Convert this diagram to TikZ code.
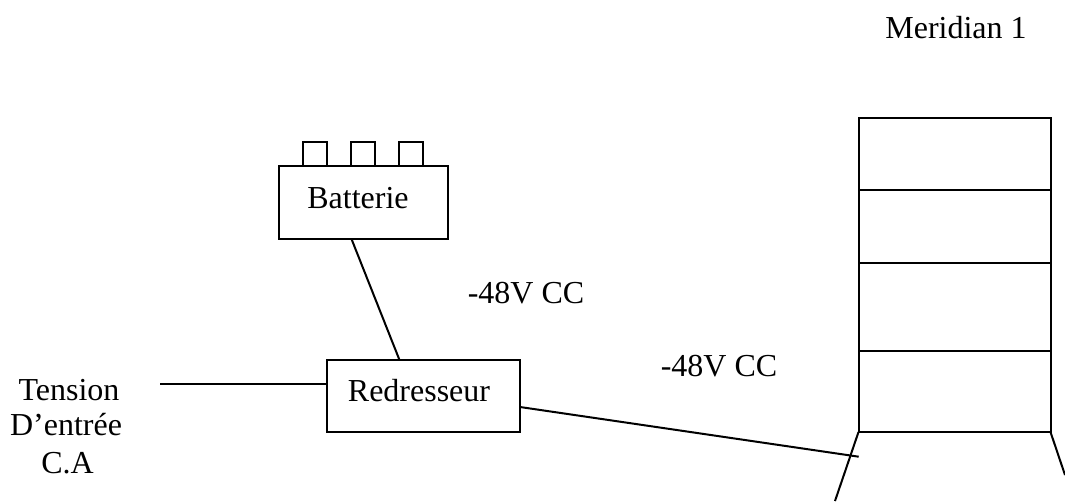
\documentclass[tikz,border=0pt]{standalone}
\usepackage{fontspec}
\setmainfont{Liberation Serif}
\tikzset{
  line/.style={draw=black,line width=1.5pt},
  box/.style={line,rectangle,inner sep=0pt,outer sep=0pt},
  label/.style={inner sep=0pt,font=\fontsize{24}{28}\selectfont,anchor=base},
}
\begin{document}
\begin{tikzpicture}[x=0.75pt,y=-0.75pt]
\useasboundingbox (0,0) rectangle (1065,501);
% Battery
\foreach \n/\x in {t1/315,t2/363,t3/411}
  \node[box,minimum width=18pt,minimum height=18pt] (\n) at (\x,154) {};
\node[box,fill=white,minimum width=126.75pt,minimum height=54.75pt] (bat) at (363.25,202.5) {};
\node[label] (battxt) at (358,208) {Batterie};
% Rectifier
\node[box,minimum width=144.75pt,minimum height=54pt] (red) at (423.5,396) {};
\node[label] (redtxt) at (419,401) {Redresseur};
% Cabinet
\node[box,minimum width=144pt,minimum height=54pt] (c1) at (954.5,154) {};
\node[box,minimum width=144pt,minimum height=54.75pt] (c2) at (954.5,226.5) {};
\node[box,minimum width=144pt,minimum height=66pt] (c3) at (954.5,307) {};
\node[box,minimum width=144pt,minimum height=60.75pt] (c4) at (954.5,391.5) {};
% Free ends
\coordinate (legL) at (835,501);
\coordinate (legR) at (1065,475);
\coordinate (feedEnd) at (858.7,456.7);
\coordinate (acIn) at (160,384);
\coordinate (batOut) at (351.5,239);
\coordinate (redTop) at (399.5,360);
\coordinate (redOut) at (520,407);
\coordinate (redIn) at (327,384);
% Connectors
\draw[line] (batOut) -- (redTop);
\draw[line] (acIn) -- (redIn);
\draw[line] (redOut) -- (feedEnd);
\draw[line] (c4.south west) -- (legL);
\draw[line] (c4.south east) -- (legR);
% Labels
\node[label] (mer) at (956,38.5) {Meridian 1};
\node[label] (v1) at (526,303) {-48V CC};
\node[label] (v2) at (719,376) {-48V CC};
\node[label] (a1) at (69,400) {Tension};
\node[label] (a2) at (66,435.7) {D’entrée};
\node[label] (a3) at (67.5,473) {C.A};
\end{tikzpicture}
\end{document}
